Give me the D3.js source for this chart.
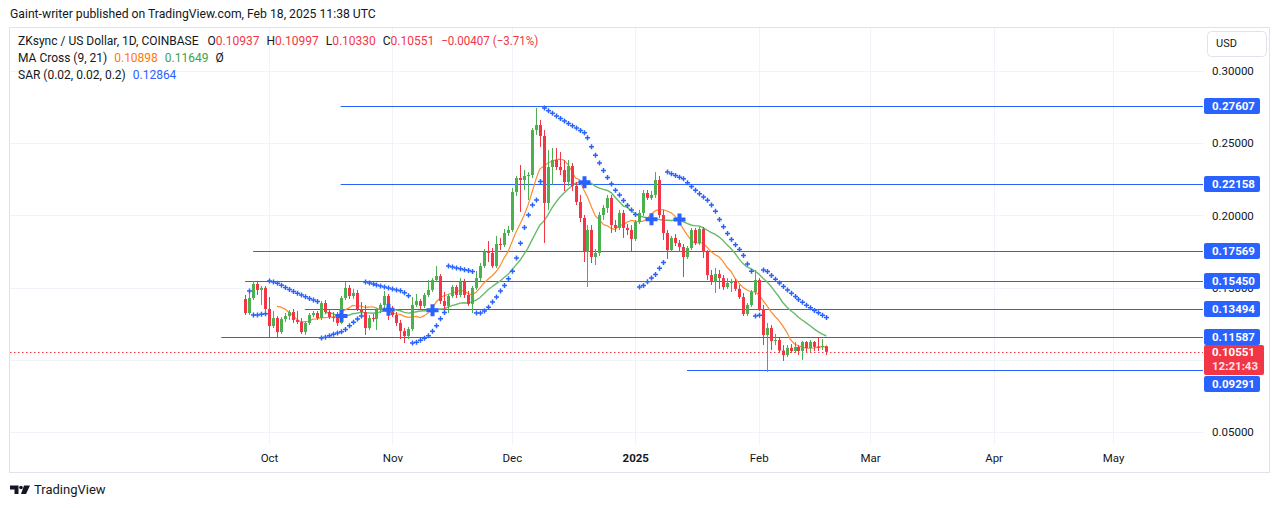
<!DOCTYPE html>
<html>
<head>
<meta charset="utf-8">
<script src="https://cdn.jsdelivr.net/npm/d3@7"></script>
<style>
  body { margin: 0; background: #fff; }
  svg { display: block; font-family: Roboto, "Noto Sans", sans-serif; }
</style>
</head>
<body>
<div id="chart"></div>
<script>
// daily bars, ZK/USD Coinbase, first bar 2024-09-25
const firstDay = '2024-09-25';

const open = [
  .1421,.1324,.1428,.1525,.1484,.1498,
  .1352,.1234,.1289,.1192,.1282,.1303,.1331,.1276,.1262,.1192,.1255,.1310,.1324,.1289,.1393,.1331,
  .1296,.1289,.1255,.1428,.1498,.1442,.1463,.1352,.1331,.1220,.1289,.1282,.1345,.1380,.1442,
  .1331,.1310,.1255,.1199,.1165,.1213,.1380,.1407,.1373,.1449,.1484,.1553,.1580,.1407,.1373,
  .1442,.1504,.1449,.1539,.1449,.1387,.1498,.1566,.1649,.1747,.1740,.1649,.1802,.1795,.1878,
  .1899,.2162,.2259,.2245,.2273,.2280,.2591,.2626,.2550,.2086,.2335,.2384,.2335,.2314,.2231,.2342,
  .2204,.2093,.1982,.1747,.1899,.1712,.1740,.2003,.2052,.2121,.1933,.1913,.2017,.1913,.1899,
  .1837,.1954,.2017,.2155,.2121,.2142,.2245,.2003,.1878,.1760,.1844,.1809,.1781,.1712,.1774,.1899,
  .1809,.1906,.1747,.1587,.1539,.1594,.1566,.1504,.1532,.1546,.1491,.1435,.1317,.1380,.1470,
  .1553,.1352,.1172,.1220,.1130,.1137,.1064,.1033,.1083,.1061,.1089,.1061,.1123,.1082,.1123,.1090,.1089,.10937
];
const high = [
  .1449,.1477,.1546,.1539,.1511,.1511,
  .1435,.1338,.1303,.1296,.1324,.1345,.1352,.1338,.1289,.1269,.1324,.1338,.1338,.1407,.1414,.1352,
  .1331,.1331,.1442,.1539,.1518,.1491,.1484,.1400,.1380,.1310,.1317,.1359,.1393,.1477,.1456,
  .1373,.1331,.1276,.1220,.1227,.1435,.1456,.1421,.1463,.1553,.1566,.1649,.1594,.1470,.1456,
  .1518,.1518,.1566,.1560,.1477,.1511,.1615,.1670,.1767,.1823,.1774,.1858,.1844,.1906,.1927,
  .2190,.2273,.2349,.2314,.2300,.2605,.2744,.2661,.2591,.2453,.2467,.2467,.2439,.2384,.2384,.2363,
  .2231,.2142,.2003,.1933,.1933,.1767,.2024,.2072,.2142,.2142,.1968,.2038,.2038,.1940,.1933,
  .1968,.2038,.2176,.2176,.2169,.2300,.2273,.2038,.1899,.1858,.1871,.1830,.1802,.1788,.1913,.1913,
  .1920,.1920,.1760,.1622,.1636,.1622,.1587,.1566,.1560,.1560,.1518,.1463,.1393,.1484,.1622,
  .1566,.1380,.1255,.1241,.1179,.1151,.1102,.1102,.1109,.1123,.1102,.1130,.1130,.1137,.1130,.1151,.1144,.10997
];
const low = [
  .1310,.1310,.1414,.1449,.1380,.1338,
  .1158,.1220,.1151,.1179,.1262,.1276,.1255,.1248,.1179,.1172,.1241,.1296,.1276,.1276,.1317,.1282,
  .1262,.1234,.1248,.1414,.1421,.1421,.1338,.1310,.1172,.1206,.1262,.1206,.1324,.1359,.1276,
  .1296,.1234,.1144,.1116,.1144,.1199,.1366,.1352,.1359,.1435,.1470,.1539,.1387,.1345,.1324,
  .1428,.1428,.1435,.1428,.1373,.1324,.1484,.1546,.1636,.1677,.1636,.1636,.1760,.1781,.1858,
  .1885,.2135,.2024,.2176,.2107,.2259,.2557,.2474,.1809,.2038,.2211,.2314,.2280,.2169,.2204,.2169,
  .2072,.1954,.1677,.1504,.1670,.1656,.1719,.1968,.2017,.1878,.1885,.1899,.1844,.1864,.1747,
  .1823,.1940,.1996,.2107,.2107,.2121,.1982,.1830,.1698,.1747,.1788,.1754,.1573,.1698,.1760,.1795,
  .1795,.1705,.1553,.1518,.1463,.1491,.1484,.1491,.1470,.1477,.1421,.1303,.1303,.1366,.1449,
  .1338,.1102,.0916,.1068,.1102,.1047,.0992,.1020,.1047,.1047,.1033,.0999,.1054,.1054,.1061,.1061,.1068,.10330
];
const close = [
  .1324,.1428,.1525,.1484,.1498,.1352,
  .1234,.1289,.1192,.1282,.1303,.1331,.1276,.1262,.1192,.1255,.1310,.1324,.1289,.1393,.1331,.1296,
  .1289,.1255,.1428,.1498,.1442,.1463,.1352,.1331,.1220,.1289,.1282,.1345,.1380,.1442,.1331,
  .1310,.1255,.1199,.1165,.1213,.1380,.1407,.1373,.1449,.1484,.1553,.1580,.1407,.1373,.1442,
  .1504,.1449,.1539,.1449,.1387,.1498,.1566,.1649,.1747,.1740,.1649,.1802,.1795,.1878,.1899,
  .2162,.2259,.2245,.2273,.2280,.2591,.2626,.2550,.2086,.2335,.2384,.2335,.2314,.2231,.2342,.2204,
  .2093,.1982,.1747,.1899,.1712,.1740,.2003,.2052,.2121,.1933,.1913,.2017,.1913,.1899,.1837,
  .1954,.2017,.2155,.2121,.2142,.2245,.2003,.1878,.1760,.1844,.1809,.1781,.1712,.1774,.1899,.1809,
  .1906,.1747,.1587,.1539,.1594,.1566,.1504,.1532,.1546,.1491,.1435,.1317,.1380,.1470,.1553,
  .1352,.1172,.1220,.1130,.1137,.1064,.1033,.1083,.1061,.1089,.1061,.1123,.1082,.1123,.1090,.1089,.10958,.10551
];

// drawn horizontal levels and the day each one starts
const levels    = [0.27607, 0.22158, 0.17569, 0.15450, 0.13494, 0.11587, 0.09291];
const levelFrom = ['2024-10-19','2024-10-19','2024-09-27','2024-09-25','2024-10-10','2024-09-19','2025-01-14'];

const priceTicks  = [0.05, 0.10, 0.15, 0.20, 0.25, 0.30];
const monthTicks  = ['2024-10-01','2024-11-01','2024-12-01','2025-01-01','2025-02-01','2025-03-01','2025-04-01','2025-05-01'];
const monthLabels = ['Oct','Nov','Dec','2025','Feb','Mar','Apr','May'];

const countdown = '12:21:43';
const sarLegend = 0.12864;

//////////////////////////////////
const W = 1281, H = 508;
const plot = {left: 10, right: 1203, top: 28, bottom: 444};
const col = {
  text: '#131722', up: '#4caf50', down: '#f23645', blue: '#2962ff',
  grid: '#f0f3fa', border: '#e0e3eb', ma1: '#ff8c2e', ma2: '#66bb6a'
};

const days = open.map((d, i) => d3.utcDay.offset(new Date(firstDay), i));
const x = d3.scaleUtc().domain([new Date(monthTicks[0]), new Date(monthTicks[7])]).range([269, 1113]);
const y = d3.scaleLinear().domain([0.05, 0.30]).range([432, 71]);
const fmt = d3.format('.5f');

function sma(src, len) {
  return src.map((d, i) => i < len - 1 ? null : d3.mean(src.slice(i - len + 1, i + 1)));
}

// parabolic SAR, same steps as the pine version
function psar(start, inc, max) {
  const out = [];
  let result, maxMin, accel, isBelow;
  for (let i = 0; i < close.length; i++) {
    if (i === 0) { out.push(null); continue; }
    let first = false;
    if (i === 1) {
      if (close[1] > close[0]) { isBelow = true; maxMin = high[1]; result = low[0]; }
      else { isBelow = false; maxMin = low[1]; result = high[0]; }
      first = true;
      accel = start;
    }
    result = result + accel * (maxMin - result);
    if (isBelow) {
      if (result > low[i]) { first = true; isBelow = false; result = Math.max(high[i], maxMin); maxMin = low[i]; accel = start; }
    } else {
      if (result < high[i]) { first = true; isBelow = true; result = Math.min(low[i], maxMin); maxMin = high[i]; accel = start; }
    }
    if (!first) {
      if (isBelow) { if (high[i] > maxMin) { maxMin = high[i]; accel = Math.min(accel + inc, max); } }
      else { if (low[i] < maxMin) { maxMin = low[i]; accel = Math.min(accel + inc, max); } }
    }
    if (isBelow) {
      result = Math.min(result, low[i - 1]);
      if (i > 1) result = Math.min(result, low[i - 2]);
    } else {
      result = Math.max(result, high[i - 1]);
      if (i > 1) result = Math.max(result, high[i - 2]);
    }
    out.push(result);
  }
  return out;
}

const ma9 = sma(close, 9);
const ma21 = sma(close, 21);
const sar = psar(0.02, 0.02, 0.2);

const crosses = [];
for (let i = 1; i < close.length; i++) {
  if (ma9[i - 1] == null || ma21[i - 1] == null) continue;
  const a = ma9[i - 1] - ma21[i - 1], b = ma9[i] - ma21[i];
  if ((a <= 0 && b > 0) || (a >= 0 && b < 0)) crosses.push(i);
}

const svg = d3.select('#chart').append('svg').attr('width', W).attr('height', H);

// header
svg.append('text').attr('x', 10).attr('y', 15).attr('dominant-baseline', 'middle')
  .attr('font-size', 12.2).attr('fill', col.text)
  .text('Gaint-writer published on TradingView.com, Feb 18, 2025 11:38 UTC');

// panel frame
svg.append('rect').attr('x', 9.5).attr('y', 27.5).attr('width', 1260).attr('height', 445)
  .attr('fill', '#fff').attr('stroke', col.border);

// grid
const $grid = svg.append('g');
$grid.selectAll('.vg').data(monthTicks).enter().append('line')
  .attr('x1', d => Math.round(x(new Date(d))) + 0.5).attr('x2', d => Math.round(x(new Date(d))) + 0.5)
  .attr('y1', plot.top).attr('y2', plot.bottom).attr('stroke', col.grid);
$grid.selectAll('.hg').data(priceTicks).enter().append('line')
  .attr('x1', plot.left).attr('x2', plot.right)
  .attr('y1', d => Math.round(y(d)) + 0.5).attr('y2', d => Math.round(y(d)) + 0.5)
  .attr('stroke', col.grid);

svg.append('clipPath').attr('id', 'clip').append('rect')
  .attr('x', plot.left).attr('y', plot.top).attr('width', plot.right - plot.left).attr('height', plot.bottom - plot.top);
const $chart = svg.append('g').attr('clip-path', 'url(#clip)');

// drawn levels
$chart.selectAll('.lvl').data(levels).enter().append('line')
  .attr('x1', (d, i) => x(new Date(levelFrom[i]))).attr('x2', plot.right)
  .attr('y1', d => Math.round(y(d)) + 0.5).attr('y2', d => Math.round(y(d)) + 0.5)
  .attr('stroke', col.blue).attr('stroke-width', 1.2);

// last price dotted line
const last = close.length - 1;
$chart.append('line').attr('x1', plot.left).attr('x2', plot.right)
  .attr('y1', Math.round(y(close[last])) + 0.5).attr('y2', Math.round(y(close[last])) + 0.5)
  .attr('stroke', col.down).attr('stroke-dasharray', '1.5 2.5');

// moving averages
const line = d3.line().defined(d => d.v != null).x(d => x(d.t)).y(d => y(d.v));
$chart.append('path').datum(ma21.map((v, i) => ({t: days[i], v})))
  .attr('d', line).attr('fill', 'none').attr('stroke', col.ma2).attr('stroke-width', 1.4);
$chart.append('path').datum(ma9.map((v, i) => ({t: days[i], v})))
  .attr('d', line).attr('fill', 'none').attr('stroke', col.ma1).attr('stroke-width', 1.2);

// candles
const $c = $chart.selectAll('.candle').data(days).enter().append('g')
  .attr('transform', d => `translate(${Math.round(x(d))},0)`);
$c.append('rect').attr('x', 0).attr('width', 1)
  .attr('y', (d, i) => y(high[i])).attr('height', (d, i) => Math.max(1, y(low[i]) - y(high[i])))
  .attr('fill', (d, i) => close[i] >= open[i] ? col.up : col.down);
$c.append('rect').attr('x', -1).attr('width', 3)
  .attr('y', (d, i) => y(Math.max(open[i], close[i])))
  .attr('height', (d, i) => Math.max(1, Math.abs(y(open[i]) - y(close[i]))))
  .attr('fill', (d, i) => close[i] >= open[i] ? col.up : col.down);

// SAR dots
$chart.selectAll('.sar').data(sar.map((v, i) => ({t: days[i], v})).filter(d => d.v != null))
  .enter().append('path')
  .attr('transform', d => `translate(${Math.round(x(d.t)) + 0.5},${y(d.v)})`)
  .attr('d', 'M-2.5,0H2.5M0,-2.5V2.5').attr('stroke', col.blue).attr('stroke-width', 1.5);

// MA cross markers
$chart.selectAll('.cross').data(crosses).enter().append('path')
  .attr('transform', i => `translate(${Math.round(x(days[i])) + 0.5},${y(ma21[i])})`)
  .attr('d', 'M-6,0H6M0,-6V6').attr('stroke', col.blue).attr('stroke-width', 4);

// price axis (ticks under the last price label are hidden, as on the reference)
const ly = Math.round(y(close[last]));
const red = {top: ly - 7, bottom: ly + 23};
const $py = svg.append('g').attr('transform', `translate(${plot.right},0)`)
  .call(d3.axisRight(y).tickValues(priceTicks).tickFormat(fmt).tickSize(0).tickPadding(9));
$py.select('.domain').remove();
$py.selectAll('text').attr('fill', col.text).attr('font-size', 11.5).attr('font-family', 'Roboto, sans-serif');
$py.selectAll('.tick').filter(d => y(d) > red.top - 4 && y(d) < red.bottom + 4).remove();

// time axis
const $tx = svg.append('g').attr('transform', `translate(0,${plot.bottom})`)
  .call(d3.axisBottom(x).tickValues(monthTicks.map(d => new Date(d))).tickFormat((d, i) => monthLabels[i]).tickSize(0).tickPadding(10));
$tx.select('.domain').remove();
$tx.selectAll('text').attr('fill', col.text).attr('font-size', 11.5).attr('font-family', 'Roboto, sans-serif')
  .attr('font-weight', (d, i) => monthLabels[i] === '2025' ? 'bold' : null);

// USD box
svg.append('rect').attr('x', 1207.5).attr('y', 31.5).attr('width', 59).attr('height', 25).attr('rx', 4)
  .attr('fill', '#fff').attr('stroke', col.border);
svg.append('text').attr('x', 1216).attr('y', 44.5).attr('dominant-baseline', 'middle')
  .attr('font-size', 11).attr('fill', col.text).text('USD');

// price labels: red last price first, then levels pushed clear of it
svg.append('rect').attr('x', 1204).attr('y', red.top).attr('width', 60).attr('height', red.bottom - red.top)
  .attr('rx', 2).attr('fill', col.down);
svg.append('text').attr('x', 1212).attr('y', ly + 0.5).attr('dominant-baseline', 'middle')
  .attr('font-size', 11.5).attr('font-weight', 'bold').attr('fill', '#fff').text(fmt(close[last]));
svg.append('text').attr('x', 1212).attr('y', ly + 15).attr('dominant-baseline', 'middle')
  .attr('font-size', 11.5).attr('font-weight', 'bold').attr('fill', '#fde3e5').text(countdown);

levels.forEach(v => {
  let top = Math.round(y(v)) - 8;
  if (top + 16 > red.top && top < red.bottom) {
    top = (y(v) < ly) ? red.top - 18 : red.bottom + 1;
  }
  svg.append('rect').attr('x', 1204).attr('y', top).attr('width', 56).attr('height', 16)
    .attr('rx', 2).attr('fill', col.blue);
  svg.append('text').attr('x', 1212).attr('y', top + 8.5).attr('dominant-baseline', 'middle')
    .attr('font-size', 11.5).attr('font-weight', 'bold').attr('fill', '#fff').text(fmt(v));
});

// legend
function legendRow(yc, parts) {
  const t = svg.append('text').attr('x', 18).attr('y', yc).attr('dominant-baseline', 'middle')
    .attr('font-size', 12);
  parts.forEach(p => {
    const s = t.append('tspan').attr('dx', p[2] || 0).attr('fill', p[1]).text(p[0]);
    if (p[3]) s.attr('textLength', p[3]).attr('lengthAdjust', 'spacingAndGlyphs');
  });
}
const chg = close[last] - close[last - 1];
const minus = s => s.replace('-', '\u2212');
legendRow(42, [
  ['ZKsync / US Dollar, 1D, COINBASE', col.text],
  ['O', col.text, 9], [fmt(open[last]), col.down],
  ['H', col.text, 7], [fmt(high[last]), col.down],
  ['L', col.text, 7], [fmt(low[last]), col.down],
  ['C', col.text, 7], [fmt(close[last]), col.down],
  [minus(fmt(chg)) + ' (' + minus(d3.format('.2f')(chg / close[last - 1] * 100)) + '%)', col.down, 7, 97]
]);
legendRow(59, [
  ['MA Cross (9, 21)', col.text],
  [fmt(ma9[last]), '#ff7a00', 7],
  [fmt(ma21[last]), '#43a047', 7],
  ['\u00d8', col.text, 7]
]);
legendRow(76, [
  ['SAR (0.02, 0.02, 0.2)', col.text],
  [fmt(sarLegend), col.blue, 7]
]);

// TradingView logo
const $logo = svg.append('g').attr('fill', '#131722');
$logo.append('path').attr('d', 'M10,485.5h8.5v8.5h-4v-4.5h-4.5z');
$logo.append('circle').attr('cx', 21).attr('cy', 487.5).attr('r', 1.8);
$logo.append('path').attr('d', 'M24,485.5h6l-4,8.5h-5z');
svg.append('text').attr('x', 34).attr('y', 491).attr('dominant-baseline', 'middle')
  .attr('font-size', 13).attr('fill', col.text).text('TradingView');
</script>
</body>
</html>
